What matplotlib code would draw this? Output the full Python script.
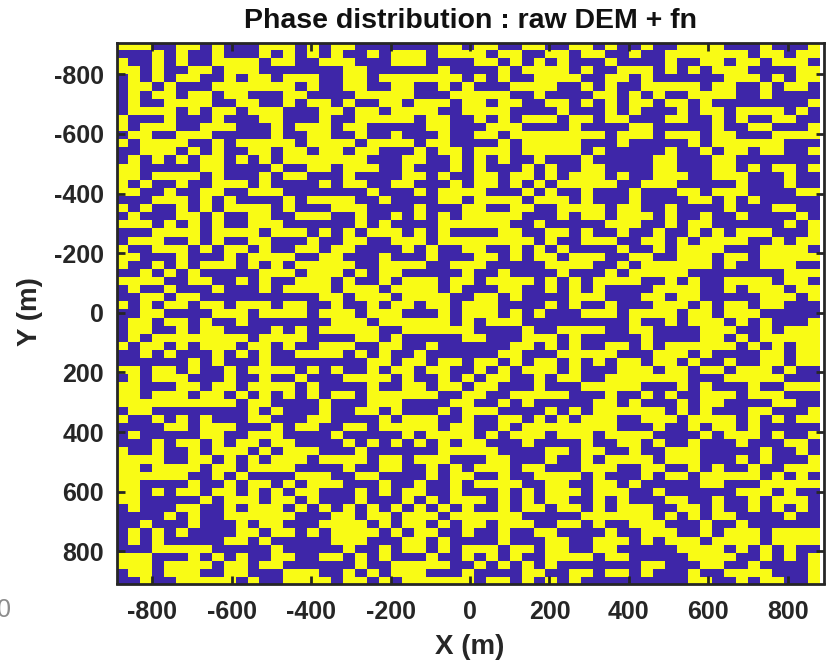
import numpy as np
import matplotlib
matplotlib.use('Agg')
import matplotlib.pyplot as plt
from matplotlib.colors import ListedColormap

plt.rcParams['font.family'] = ['Liberation Sans', 'DejaVu Sans']
plt.rcParams['axes.unicode_minus'] = False

# phase cells, 1 = yellow, 0 = blue, top row first
# columns 0-19
left_rows = [
    "11100110100011101011", "00010100100010101010", "10010100111101100111", "11010011011100000001",
    "01010110010110111001", "01101000111111101001", "01011011011000110000", "01001111001100101101",
    "01111010110111000110", "10001000100011000100", "10111001110001011101", "01100111000001001100",
    "10111100101111101111", "00111010100110110110", "01010101101010111111", "11000001100001001101",
    "11011110100010110001", "10100100111010000101", "11001001100111000000", "00011101010000101111",
    "10100101011110100011", "01000110100110011100", "11101010100111000000", "00011110111101110101",
    "01110010100110001001", "10011101011010011011", "11000100010111100110", "10010101110101011111",
    "00101010000011101110", "11110011001010011101", "01001000100010111101", "00110110000000000110",
    "10101101101110110010", "00110000111011110111", "01101101001000000011", "01100101100001010111",
    "01011111111011110000", "10110101110110100111", "00101000101010011110", "00000010100010000000",
    "11011010010111101010", "01011100010010010001", "11000110110111101000", "11011101101010101011",
    "11111111110110000100", "01100000000101000100", "10010101000110001100", "00001101110001011001",
    "01000001100111000010", "00010110101101100001", "10010010111010111000", "11110011010101110111",
    "11011110110111100001", "11111100101000011100", "11000010010110101110", "11010110110101011000",
    "11000001011101101000", "01000110010111010101", "00001010011111100011", "00100010001011000111",
    "01010100001101101011", "01010000011010000011", "00011111000001000001", "11100010101001100110",
    "11101111011011000000", "01101110011000111001", "00100111110100111101",
]
# columns 20-39
mid_rows = [
    "00000001101100110011", "01011101111011001101", "00011100001101010100", "10000001000010111101",
    "10111111101010011110", "10011001010001111001", "11111000111110010000", "00110111011011001101",
    "11011110011110000100", "11111011001010111011", "10000011000111000010", "10010001001101111111",
    "01111011000010111110", "11000101101110111110", "10001100101010010001", "11001000101000101001",
    "00001101001101101011", "10011000101101010111", "01000101111000101001", "00100001101111011101",
    "10000100011001100111", "10010101011111000101", "10100001111110010000", "01110101000011001101",
    "10011101111111101001", "00001010011001010100", "00100010001101011011", "00111100111000001111",
    "10110000010010000100", "00101110110111101010", "11011110100011001010", "11101111001101000011",
    "01011011011100001010", "01110001011101010001", "10111111010111000000", "11001111110000100111",
    "11010000011000111010", "00110010000001101010", "10100100000011000111", "01101101101101011010",
    "01011011001010111010", "11101001010110010110", "01001101101100010001", "01111110011001111100",
    "01110000110010100000", "11010001011100001010", "00101110010011010101", "10111110110010111111",
    "00001011110101110111", "01010101011000100001", "10000001111100001101", "10110111000110001001",
    "00110010101110110001", "11000010110010011110", "00100100101111001100", "10101100100010101110",
    "10001010111010101100", "01010101010010110110", "01101110111111000001", "10101101011011100110",
    "11010110010010011000", "10001101000010001100", "00101101011101101100", "10100010010101001111",
    "10011111001010101000", "01011100010000110011", "10101111110110101010",
]
# columns 40-58
right_rows = [
    "0100100111100010001", "1001001111111011011", "0100001001101101110", "0011101010111000011",
    "0110100000011101011", "0100111110110010110", "1101010011110010000", "0101101101000000001",
    "0101000101101111010", "0110001100101001100", "0001100000100110001", "1011101110110001111",
    "0010000010111111000", "1000001001011011001", "0000011000110000000", "1000011000110101101",
    "1010011100111000100", "1100111000001000100", "0001000110111000011", "0001000011010100000",
    "1011001000010001100", "1011101001001000010", "0111001011000000101", "0010010010101110001",
    "1100110101111001011", "0010010111100011110", "1001100111011011111", "0010111111010011100",
    "0101111100000000111", "1111001010011110110", "1000011110010111011", "1000110110000011101",
    "0100011101011011000", "1101111011011100000", "0001001011101010001", "1001100001110010111",
    "0000100001101011111", "0110101111110101011", "1100011101000011011", "1011011010010011011",
    "0011101101101110100", "0111111100011111000", "1111000101000100111", "0100101001110111000",
    "1101000101100001100", "1111110101000110001", "1100111011110101011", "1100010010110100000",
    "0111100001011101001", "0011010010001000110", "1001001110000010010", "0111101110001010001",
    "1100110010100100111", "1000101101111101010", "1101000001100011111", "1110010000001110100",
    "1010001100100101110", "1011100110100101010", "1111101010110000100", "1001110001001000000",
    "0100111001011101111", "1110101110111101111", "1100000111101010100", "0110000011110010101",
    "0000110001100100001", "0110100010011110001", "0000000011001011001",
]

x_ticks = [-800, -600, -400, -200, 0, 200, 400, 600, 800]
y_ticks = [-800, -600, -400, -200, 0, 200, 400, 600, 800]

text_col = '#262626'

# Build the grid
phase = np.array([[int(c) for c in a + b + d] for a, b, d in zip(left_rows, mid_rows, right_rows)])
x_edges = -890 + 30.0 * np.arange(phase.shape[1] + 1)
y_edges = -908.7 + 27.2 * np.arange(phase.shape[0] + 1)

fig = plt.figure(figsize=(8.27, 6.61), dpi=100)
ax = fig.add_axes([116.5 / 827, 1 - 583.5 / 661, 707 / 827, 540.5 / 661])
ax.pcolormesh(x_edges, y_edges, phase, cmap=ListedColormap(['#3E26A8', '#F9FB15']), vmin=0, vmax=1)
ax.set_xlim(-890, 890)
ax.set_ylim(908, -905)

ax.set_xticks(x_ticks)
ax.set_yticks(y_ticks)
ax.tick_params(direction='in', length=5.5, width=2, top=True, right=True, color=text_col,
               labelsize=18, labelcolor=text_col)
ax.tick_params(axis='x', pad=12)
ax.tick_params(axis='y', pad=9)
for lab in ax.get_xticklabels() + ax.get_yticklabels():
    lab.set_fontweight('bold')
for s in ax.spines.values():
    s.set_linewidth(2)
    s.set_color(text_col)

fig.text(470 / 827, 1 - 21 / 661, 'Phase distribution : raw DEM + fn', fontsize=20.5, fontweight='bold',
         color='#111111', ha='center', va='center')
fig.text(470 / 827, 1 - 647 / 661, 'X (m)', fontsize=20, fontweight='bold', color=text_col, ha='center', va='center')
fig.text(30 / 827, 1 - 312 / 661, 'Y (m)', fontsize=20, fontweight='bold', color=text_col, rotation=90, ha='center', va='center')

# cropped leftover tick label at the far left of the picture
fig.text(11 / 827, 1 - 610 / 661, '0', fontsize=18, color='#8c8c8c', ha='right', va='center')

fig.savefig('out.png', dpi=100)
